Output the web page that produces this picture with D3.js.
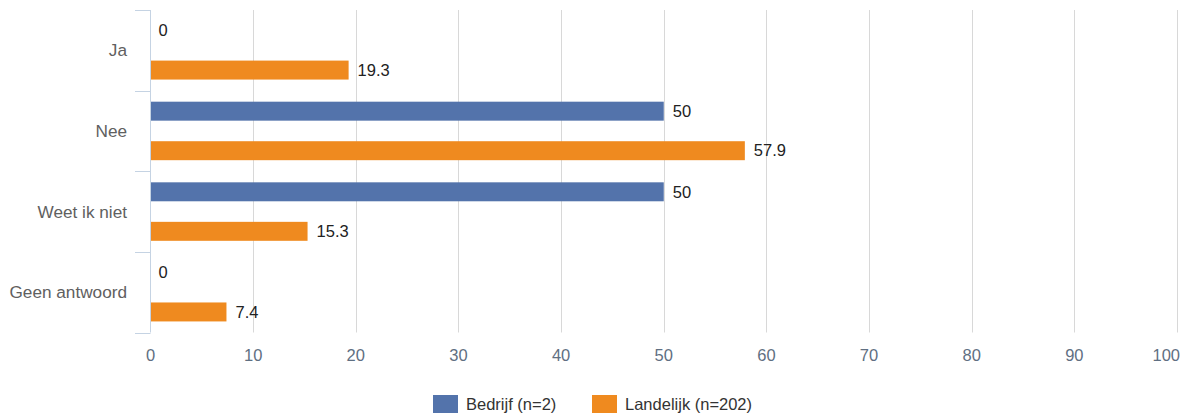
<!DOCTYPE html>
<html><head><meta charset="utf-8">
<script src="https://cdn.jsdelivr.net/npm/d3@7"></script>
<style>body{margin:0;background:#fff;}svg{display:block;font-family:"Liberation Sans",Arial,sans-serif;}</style>
</head><body><svg id="c" width="1183" height="418"></svg>
<script>
const categories = ["Ja", "Nee", "Weet ik niet", "Geen antwoord"];
const seriesNames = ["Bedrijf (n=2)", "Landelijk (n=202)"];
const bedrijf = [0, 50, 50, 0];
const landelijk = [19.3, 57.9, 15.3, 7.4];
const xTicks = [0, 10, 20, 30, 40, 50, 60, 70, 80, 90, 100];
const colors = ["#5373ab", "#ef8a1f"];

(function () {
const svg = d3.select("#c");
const mLeft = 150.5, mRight = 1177, mTop = 10, mBottom = 332.5;
const FS = 16.5;
const x = d3.scaleLinear().domain([0, 100]).range([mLeft, mRight]);
const y = d3.scaleBand().domain(categories).range([mTop, mBottom]);
const inner = d3.scaleBand().domain([0, 1]).range([0, y.bandwidth()]).paddingInner(0.52).paddingOuter(0.28);

// gridlines
svg.append("g").selectAll("line").data(xTicks.filter(d => d > 0)).join("line")
  .attr("x1", d => Math.round(x(d)) + 0.5).attr("x2", d => Math.round(x(d)) + 0.5)
  .attr("y1", mTop).attr("y2", mBottom)
  .attr("stroke", "#d8d8d8").attr("stroke-width", 1);

// bars
const series = [bedrijf, landelijk];
series.forEach((vals, si) => {
  svg.append("g").selectAll("rect").data(vals).join("rect")
    .attr("x", x(0))
    .attr("y", (d, i) => y(categories[i]) + inner(si))
    .attr("width", d => x(d) - x(0))
    .attr("height", inner.bandwidth())
    .attr("fill", colors[si]);
  svg.append("g").selectAll("text").data(vals).join("text")
    .attr("x", d => x(d) + (d === 0 ? 8 : 9))
    .attr("y", (d, i) => y(categories[i]) + inner(si) + inner.bandwidth() / 2)
    .attr("dy", "0.35em")
    .attr("font-size", FS).attr("fill", "#222")
    .text(d => d);
});

// left axis
const yAxis = svg.append("g");
yAxis.append("line").attr("x1", mLeft).attr("x2", mLeft).attr("y1", mTop).attr("y2", mBottom)
  .attr("stroke", "#c5d3e3").attr("stroke-width", 1);
const bounds = categories.map(c => y(c)).concat([mBottom]);
yAxis.selectAll("line.t").data(bounds).join("line").attr("class", "t")
  .attr("x1", 135).attr("x2", mLeft).attr("y1", d => Math.round(d) + 0.5).attr("y2", d => Math.round(d) + 0.5)
  .attr("stroke", "#c5d3e3");
yAxis.selectAll("text").data(categories).join("text")
  .attr("x", 127).attr("y", d => y(d) + y.bandwidth() / 2).attr("dy", "0.35em")
  .attr("text-anchor", "end").attr("font-size", 17.2).attr("fill", "#606060")
  .text(d => d);

// bottom axis labels
svg.append("g").selectAll("text").data(xTicks).join("text")
  .attr("x", (d, i) => i === xTicks.length - 1 ? 1180 : x(d))
  .attr("y", 355).attr("dy", "0.35em")
  .attr("text-anchor", (d, i) => i === xTicks.length - 1 ? "end" : "middle")
  .attr("font-size", FS).attr("fill", "#5f6f82")
  .text(d => d);

// legend
const legend = [{x: 433, tx: 466}, {x: 592, tx: 625}];
legend.forEach((l, i) => {
  svg.append("rect").attr("x", l.x).attr("y", 395).attr("width", 25).attr("height", 18).attr("fill", colors[i]);
  svg.append("text").attr("x", l.tx).attr("y", 404).attr("dy", "0.35em")
    .attr("font-size", FS).attr("fill", "#333").text(seriesNames[i]);
});
})();
</script></body></html>
